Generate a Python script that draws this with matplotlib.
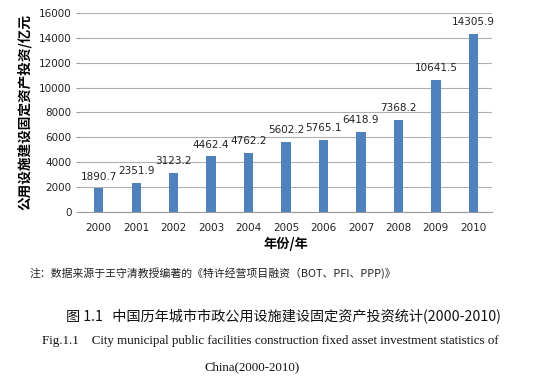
import matplotlib
matplotlib.use("Agg")
from matplotlib import pyplot as plt

# data
years = ["2000", "2001", "2002", "2003", "2004", "2005",
         "2006", "2007", "2008", "2009", "2010"]
invest = [1890.7, 2351.9, 3123.2, 4462.4, 4762.2, 5602.2,
          5765.1, 6418.9, 7368.2, 10641.5, 14305.9]
yticks = [0, 2000, 4000, 6000, 8000, 10000, 12000, 14000, 16000]

cjk = ["Noto Sans CJK SC", "DejaVu Sans"]
serif = ["Liberation Serif", "DejaVu Serif"]

fig = plt.figure(figsize=(5.45, 3.8), dpi=100)
ax = fig.add_axes([80 / 545, 1 - 212 / 380, 412 / 545, 199 / 380])

x = range(len(years))
bars = ax.bar(x, invest, width=0.25, color="#4F81BD", zorder=3)
for xi, v in zip(x, invest):
    ax.annotate(f"{v:.1f}", (xi, v), xytext=(0, 5), textcoords="offset points",
                ha="center", va="bottom", fontsize=7.5, color="#222222",
                family=["DejaVu Sans"])

ax.set_xlim(-0.5, len(years) - 0.5)
ax.set_ylim(0, 16000)
ax.set_yticks(yticks)
ax.set_xticks(list(x))
ax.set_xticklabels(years)
ax.tick_params(axis="both", labelsize=7.5, colors="#222222")
ax.tick_params(axis="x", length=0, pad=8)
ax.tick_params(axis="y", length=3, color="#999999", pad=3)
ax.grid(axis="y", color="#b0b0b0", linewidth=0.8, zorder=0)
for s in ["top", "right", "left"]:
    ax.spines[s].set_visible(False)
ax.spines["bottom"].set_color("#999999")

ax.set_xlabel("年份/年", family=cjk, fontsize=9.5, fontweight="bold", labelpad=3)
ax.set_ylabel("公用设施建设固定资产投资/亿元", family=cjk, fontsize=9.8,
              fontweight="bold", labelpad=5)

# caption lines under the chart
fig.text(30 / 545, 1 - 273 / 380, "注：数据来源于王守清教授编著的《特许经营项目融资（BOT、PFI、PPP)》",
         family=cjk, fontsize=7.8, va="center", ha="left", color="#222222")
fig.text(283 / 545, 1 - 317 / 380, "图 1.1   中国历年城市市政公用设施建设固定资产投资统计(2000-2010)",
         family=cjk, fontsize=10.2, va="center", ha="center", color="#111111")
fig.text(270 / 545, 1 - 341 / 380,
         "Fig.1.1    City municipal public facilities construction fixed asset investment statistics of",
         family=serif, fontsize=9.4, va="center", ha="center", color="#111111")
fig.text(252 / 545, 1 - 367 / 380, "China(2000-2010)",
         family=serif, fontsize=9.3, va="center", ha="center", color="#111111")

fig.savefig("out.png", dpi=100, facecolor="white")
